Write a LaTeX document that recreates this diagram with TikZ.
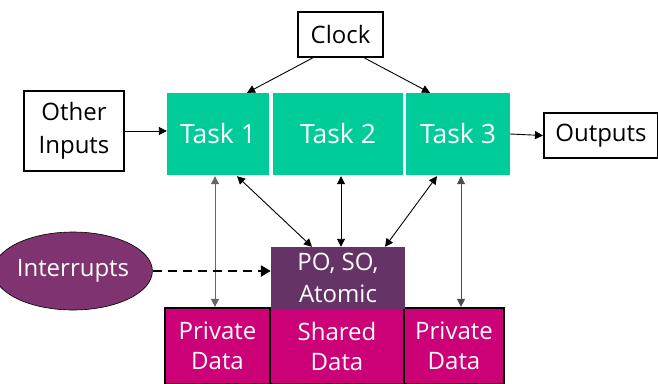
\documentclass[tikz,border=0pt]{standalone}
\usepackage{fontspec}
\setmainfont{Open Sans}
\usetikzlibrary{arrows.meta,shapes.geometric}
\definecolor{taskgreen}{HTML}{00CC99}
\definecolor{syncpurple}{HTML}{663366}
\definecolor{intpurple}{HTML}{7F3370}
\definecolor{datamag}{HTML}{CC0077}
\tikzset{
  outbox/.style={draw=black, line width=2pt, fill=white, text=black, align=center, inner sep=0pt, font=\fontsize{24}{33}\selectfont},
  taskbox/.style={fill=taskgreen, text=white, inner sep=0pt, font=\fontsize{26.5}{30}\selectfont},
  databox/.style={draw=black, line width=2.2pt, fill=datamag, text=white, align=center, inner sep=0pt, font=\fontsize{24}{30}\selectfont},
  link/.style={line width=0.9pt, -{Triangle[length=8pt,width=8pt]}},
  twoway/.style={line width=0.9pt, {Triangle[length=8pt,width=8pt]}-{Triangle[length=8pt,width=8pt]}},
}
\begin{document}
\begin{tikzpicture}[x=1pt,y=-1pt]
\useasboundingbox (0,0) rectangle (658,383);
% data stores
\node[databox, minimum width=105pt, minimum height=76pt] (p1) at (217.5,346) {Private\\Data};
\node[databox, minimum width=134pt, minimum height=76pt] (sd) at (337,346) {Shared\\Data};
\node[databox, minimum width=100pt, minimum height=76pt] (p2) at (454,346) {Private\\Data};
% ordering block
\node[fill=syncpurple, text=white, align=center, inner sep=0pt, minimum width=134pt, minimum height=62pt,
      font=\fontsize{24}{32}\selectfont] (po) at (338,278) {PO, SO,\\Atomic};
% tasks
\node[taskbox, minimum width=102pt, minimum height=82pt] (t1) at (218,134) {Task 1};
\node[taskbox, minimum width=130pt, minimum height=82pt] (t2) at (338,134) {Task 2};
\node[taskbox, minimum width=104pt, minimum height=82pt] (t3) at (458,134) {Task 3};
% sources and sinks
\node[outbox, minimum width=85pt, minimum height=45pt] (clk) at (340.5,34.5) {Clock};
\node[outbox, minimum width=100pt, minimum height=80pt] (oi) at (74,131) {Other\\Inputs};
\node[outbox, minimum width=114pt, minimum height=45pt] (out) at (601,135.5) {Outputs};
\node[ellipse, draw=black, line width=0.6pt, fill=intpurple, text=white, inner sep=0pt,
      minimum width=127pt, minimum height=78pt, font=\fontsize{24}{28}\selectfont] (irq) at (73,271) {Interrupts};
% clock and I/O
\draw[link] ([xshift=-28pt]clk.south) -- ([xshift=29pt]t1.north);
\draw[link] ([xshift=24pt]clk.south) -- ([xshift=-28pt]t3.north);
\draw[link] (oi.east) -- (oi.east -| t1.west);
\draw[link] (t3.east) -- (out.west);
% task to data links
\draw[twoway, draw=black!60] ([xshift=-3pt,yshift=-1pt]t1.south) -- ([xshift=-3pt]t1.south |- p1.north);
\draw[twoway] ([xshift=19pt,yshift=-1pt]t1.south) -- ([xshift=-26pt]po.north);
\draw[twoway] ([xshift=3pt,yshift=-1pt]t2.south) -- ([xshift=3pt]po.north);
\draw[twoway] ([xshift=-21pt,yshift=-1pt]t3.south) -- ([xshift=47pt]po.north);
\draw[twoway, draw=black!70] ([xshift=3pt,yshift=-1pt]t3.south) -- ([xshift=3pt]t3.south |- p2.north);
% interrupts
\draw[line width=2.4pt, dash pattern=on 9pt off 6pt, -{Triangle[length=10pt,width=11pt]}] (irq.east) -- (irq.east -| po.west);
\end{tikzpicture}
\end{document}
